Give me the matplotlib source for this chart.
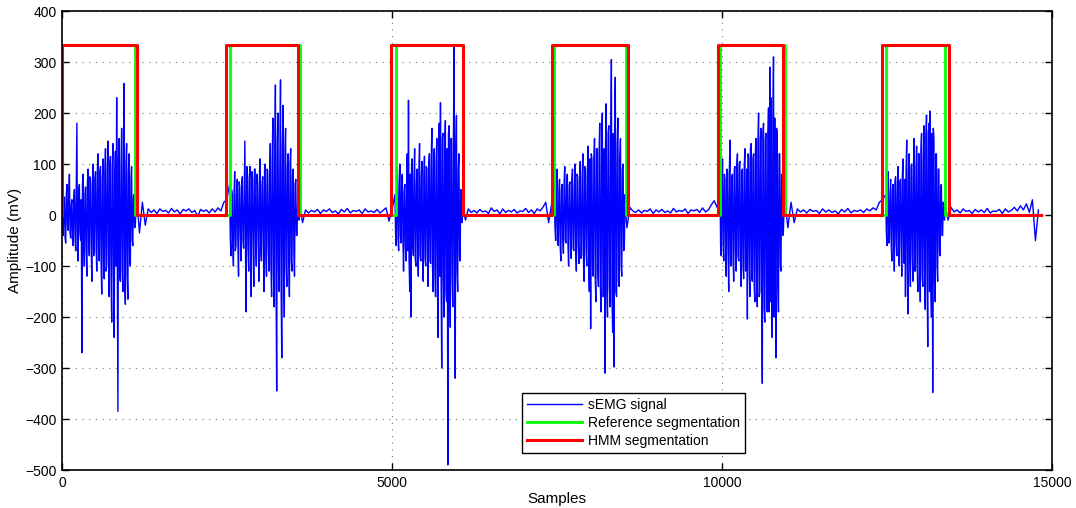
import matplotlib
matplotlib.use('Agg')
import matplotlib.pyplot as plt
import numpy as np

# Всплески ЭМГ: пиковые значения и промежуточные колебания (мВ)
burst_1 = [20, -40, 35, -55, 60, -30, 80, -45, 30, -60, 50, -70, 180, -90, 60, -50, -270, 80, -100, 55,
           -120, 90, -80, 70, -130, 100, -60, 85, -110, 120, -90, 95, -155, 110, -125, 130, -100, 145, -160, 115,
           -210, 140, -240, 125, 230, -385, 150, -130, 170, -150, 258, -175, 140, -165, 120, -100, 95, -60, 40, -20]
between_1 = [-30, 25, -45, 40, -20, 50, -35, 20, -50, 35, -40, 60, -70, 45, -35, 30, 60, -55, 40, -70,
             65, -50, 75, -60, 55, -80, 70, -65, 90, -75, 85, -100, 70, -95, 80, -110, 90, -85, 100, -120,
             95, -105, 80, -100, -90, 110, -120, 95, -110, 130, -140, 100, -120, 85, -90, 70, -50, 35, -25, 10]
burst_2 = [60, -80, 40, -100, 85, -60, 70, -120, 55, -90, 75, -65, 145, -190, 80, -110, 95, -160, 70, -140,
           90, -100, 60, -130, 110, -90, 75, -150, 100, -120, 85, -110, 140, -160, 190, -180, 255, -345, 200, -150,
           265, -280, 215, -200, 170, -140, 120, -160, 130, -110, 90, -120, 70, -40, 20]
between_2 = [-40, 50, -60, 45, -70, 40, -55, 65, -35, 60, -50, 45, -80, 95, -60, 70, -75, 85, -50, 90,
             -60, 80, -45, 85, -70, 60, -55, 95, -80, 90, -65, 75, -100, 110, -120, 115, -130, 140, -110, 100,
             -150, 130, -120, 125, -100, 95, -85, 100, -90, 80, -70, 60, -40, 25, -10]
burst_3 = [40, -60, 90, -70, 100, -55, 80, -110, 60, -90, 120, 225, -150, -200, 110, -80, 130, -100, 90, -120,
           140, -90, 105, -130, 115, -100, 90, -140, 120, -95, 170, -150, 130, -160, 150, -240, 180, 220, -300, 160,
           -200, 185, -170, -490, 175, -220, 150, -180, 330, -320, 195, -150, 120, -90, 40]
between_3 = [-35, 50, -45, 60, -40, 70, -50, 45, -65, 55, -70, -90, 80, 95, -60, 75, -85, 65, -70, 90,
             -80, 75, -90, 70, -85, 95, -75, 100, -90, 110, -100, 120, -110, 105, -130, 140, -120, -110, 150, -130,
             140, -150, 130, 160, -140, 150, -120, 130, -150, 140, -110, 90, -80, 50, -15]
burst_4 = [30, -50, 90, -60, 70, -90, 60, -75, 95, -55, 80, -100, 65, -85, 90, -70, 100, -110, 75, -95,
           105, -80, 120, -130, 90, -100, 135, -150, -223, 110, -120, 150, -170, 130, -140, 180, -190, 200, -160, -310,
           218, -200, 175, -180, 305, -230, -298, 270, -160, 190, -140, 150, -120, 100, -60, 20]
between_4 = [-25, 40, -55, 45, -60, 50, -45, 60, -50, 65, -55, 60, -50, 70, -65, 55, -75, 80, -60, 70,
             -85, 75, -90, 95, -70, 85, -100, 110, 120, -100, 110, -120, 130, -110, 120, -140, 150, -160, 130, 140,
             -150, 160, -140, 150, -170, 160, 180, -150, 140, -130, 110, -100, 90, -70, 40, -10]
burst_5 = [50, -80, 110, -90, 70, -120, 85, -150, 147, -100, 80, -130, 95, -110, 120, -90, 105, -140, 90, -125,
           130, -100, -204, 115, -160, 140, -130, 120, -170, 150, -180, 200, -150, 170, -330, 180, -210, 160, -190, 210,
           290, 230, -240, 310, 190, -280, 160, -190, 120, -110, 60, -30]
between_5 = [-60, 70, -55, 80, -65, 90, -70, 85, -95, 75, -85, 90, -70, 95, -80, 100, -90, 85, -100, 95,
             -110, 90, 120, -100, 130, -120, 110, -140, 130, -150, 140, -160, 150, -170, 160, -180, 150, -170, 160, -190,
             -170, -160, 180, -200, -150, 170, -140, 120, -100, 80, -40, 20]
burst_6 = [40, -60, 85, -50, 70, -90, 60, -110, 75, -80, 95, -100, 70, -120, 110, -95, -160, 147, -194, 120,
           -140, 100, -130, 150, -110, 135, -150, 120, -170, 160, -140, 175, -185, 196, -258, 180, 204, -200, -348, 150,
           -170, 120, -130, 90, -80, 60, -40, 15]
between_6 = [-30, 45, -55, 40, -60, 50, -45, 65, -55, 60, -70, 65, -50, 80, -75, 70, 90, -100, 85, -90,
             95, -80, 100, -110, 90, -105, 120, -100, 130, -120, 110, -140, 150, -130, 160, -150, -140, 160, 170, -130,
             120, -100, 90, -70, 55, -40, 25, -10]

# Участки покоя между всплесками
quiet_1 = [40, -35, 25, -20, 12, 5, 10, 3, 12, 7, 9, 4, 13, 6, 10, 2, 11, 8, 12, 5, 9, -3, 11, 7, 10, 4,
           12, 6, 14, 8, 25, 30]
quiet_2 = [20, -15, 10, 4, 9, 6, 11, 3, 10, 7, 12, 5, 8, 2, 11, 6, 13, 4, 9, 7, 10, 3, 12, 6, 8, 5, 11, 4,
           9, 14, -12, 10]
quiet_3 = [15, -10, 12, 5, 9, 4, 11, 6, 8, 3, 14, 7, 10, 2, 12, 5, 9, 6, 11, 4, 8, 7, 13, 5, 10, 3, 12, 8,
           15, 25, -15, 20]
quiet_4 = [-25, 15, 8, 5, 10, 4, 9, 7, 12, 3, 10, 6, 11, 5, 8, 4, 13, 6, 9, 7, 12, 3, 10, 8, 11, 5, 14, 6,
           10, 20, 28, 15]
quiet_5 = [30, -25, 25, -15, 12, 6, 10, 4, 11, 7, 9, 3, 12, 6, 10, 5, 8, 2, 11, 6, 13, 4, 9, 7, 10, 5, 12, 8,
           14, 10, 25, 30]
quiet_6 = [20, -10, 15, 6, 10, 4, 12, 7, 9, 3, 11, 6, 10, 5, 13, 4, 8, 7, 11, 3, 12, 6, 9, 15, 8, 18, 10, 22,
           5, 30, -50, 10]


def interleave(a, b):
    out = []
    for p, q in zip(a, b):
        out += [p, q]
    return out


segments = [
    (0, 1130, interleave(burst_1, between_1)), (1130, 2540, quiet_1),
    (2540, 3600, interleave(burst_2, between_2)), (3600, 5045, quiet_2),
    (5045, 6070, interleave(burst_3, between_3)), (6070, 7460, quiet_3),
    (7460, 8560, interleave(burst_4, between_4)), (8560, 9970, quiet_4),
    (9970, 10950, interleave(burst_5, between_5)), (10950, 12480, quiet_5),
    (12480, 13380, interleave(burst_6, between_6)), (13380, 14840, quiet_6),
]

# Границы сегментации (отсчёты)
ref_on = [0, 2550, 5055, 7455, 9970, 12485]
ref_off = [1100, 3600, 6070, 8550, 10960, 13380]
hmm_on = [0, 2485, 4990, 7425, 9935, 12425]
hmm_off = [1140, 3580, 6075, 8575, 10920, 13440]
seg_level = 333
signal_end = 14840


def step_curve(on, off, level, end):
    xs, ys = [], []
    for a, b in zip(on, off):
        xs += [a, a, b, b]
        ys += [0, level, level, 0]
    xs.append(end)
    ys.append(0)
    return xs, ys


def main():
    plt.rcParams['font.family'] = ['Liberation Sans', 'DejaVu Sans']

    # Собираем сигнал из сегментов
    xs, ys = [], []
    for start, end, vals in segments:
        xs.append(np.linspace(start, end, len(vals), endpoint=False))
        ys.append(np.array(vals, dtype=float))
    x = np.concatenate(xs)
    y = np.concatenate(ys)

    fig = plt.figure(figsize=(10.76, 5.08), dpi=100)
    ax = fig.add_axes([0.0576, 0.0748, 0.9201, 0.9035])

    ax.plot(x, y, color='#0000ff', linewidth=1.0, label='sEMG signal')
    rx, ry = step_curve(ref_on, ref_off, seg_level, signal_end)
    ax.plot(rx, ry, color='#00ff00', linewidth=2.0, label='Reference segmentation')
    hx, hy = step_curve(hmm_on, hmm_off, seg_level, signal_end)
    ax.plot(hx, hy, color='#ff0000', linewidth=2.2, label='HMM segmentation')

    # Оси в стиле MATLAB
    ax.set_xlim(0, 15000)
    ax.set_ylim(-500, 400)
    ax.set_xticks([0, 5000, 10000, 15000])
    ax.set_yticks(np.arange(-500, 401, 100))
    ax.tick_params(direction='in', length=5, width=1, top=True, right=True, labelsize=10, pad=4)
    ax.grid(True, linestyle=(0, (1, 5)), color='#777777', linewidth=0.8)
    for sp in ax.spines.values():
        sp.set_linewidth(1.2)

    ax.set_xlabel('Samples', fontsize=11, labelpad=2)
    ax.set_ylabel('Amplitude (mV)', fontsize=11, labelpad=2)

    leg = ax.legend(loc='lower left', bbox_to_anchor=(0.4646, 0.037), fontsize=10, fancybox=False,
                    framealpha=1, edgecolor='black', handlelength=4.0, borderpad=0.35,
                    labelspacing=0.3, handletextpad=0.4, borderaxespad=0)
    leg.get_frame().set_linewidth(1.0)

    fig.savefig('out.png', dpi=100)
    plt.close(fig)


if __name__ == '__main__':
    main()
